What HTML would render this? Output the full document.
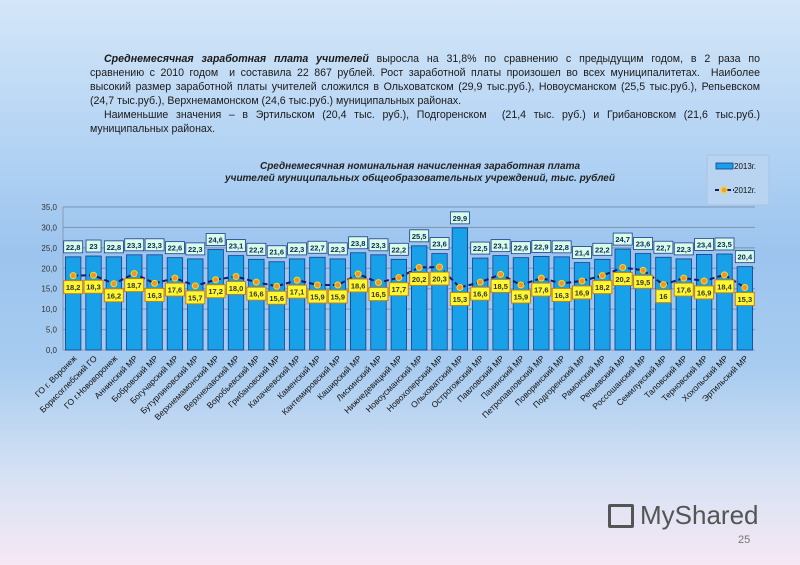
<!DOCTYPE html>
<html><head><meta charset="utf-8">
<style>
html,body{margin:0;padding:0;}
body{width:800px;height:565px;overflow:hidden;position:relative;font-family:"Liberation Sans",sans-serif;
background:linear-gradient(180deg,#d4e6f8 0%,#b4d4f4 25%,#9cc4ee 45%,#a8ccf0 65%,#d8e2f4 85%,#f6e8f4 100%);}
#txt{position:absolute;left:90px;top:52px;width:670px;font-size:10.6px;line-height:14px;color:#1a1a1a;}
#txt div{white-space:nowrap;text-align:justify;text-align-last:justify;}
#txt div.last{text-align-last:left;}
#txt div.ind{padding-left:14px;}
svg{position:absolute;left:0;top:0;}
</style></head><body>
<div id="txt">
<div class="ind"><b><i>Среднемесячная заработная плата учителей</i></b> выросла на 31,8% по сравнению с предыдущим годом, в 2 раза по</div>
<div>сравнению с 2010 годом&nbsp; и составила 22 867 рублей. Рост заработной платы произошел во всех муниципалитетах.&nbsp; Наиболее</div>
<div>высокий размер заработной платы учителей сложился в Ольховатском (29,9 тыс.руб.), Новоусманском (25,5 тыс.руб.), Репьевском</div>
<div class="last">(24,7 тыс.руб.), Верхнемамонском (24,6 тыс.руб.) муниципальных районах.</div>
<div class="ind">Наименьшие значения – в Эртильском (20,4 тыс. руб.), Подгоренском&nbsp; (21,4 тыс. руб.) и Грибановском (21,6 тыс.руб.)</div>
<div class="last">муниципальных районах.</div>
</div>
<svg id="chart" width="800" height="565">
<text x="420" y="169" text-anchor="middle" font-size="10" font-weight="bold" font-style="italic" fill="#222"><tspan x="420">Среднемесячная номинальная начисленная заработная плата</tspan><tspan x="420" dy="12">учителей муниципальных общеобразовательных учреждений, тыс. рублей</tspan></text>
<g>
<rect x="707" y="155" width="62" height="50" fill="#b8d4f0" stroke="#a8c4e4"/>
<rect x="716" y="163" width="17" height="6" fill="#1aa0e6" stroke="#123a8a" stroke-width="0.8"/>
<text x="734" y="169" font-size="8" fill="#111">2013г.</text>
<line x1="715" y1="190" x2="734" y2="190" stroke="#1a1a6a" stroke-width="2" stroke-dasharray="4,2"/>
<circle cx="724" cy="190" r="3" fill="#f0a040" stroke="#ffe000"/>
<text x="734" y="193" font-size="8" fill="#111">2012г.</text>
</g>
</svg>
<div style="position:absolute;left:608px;top:500px;font-size:26px;color:#555;"><span style="display:inline-block;width:26px;height:24px;border:3px solid #555;border-radius:2px;vertical-align:-4px;margin-right:6px;box-sizing:border-box"></span>MyShared</div>
<div style="position:absolute;left:738px;top:534px;font-size:11px;color:#777;">25</div>
<script>
const categories=["ГО г. Воронеж","Борисоглебский ГО","ГО г.Нововоронеж","Аннинский МР","Бобровский МР","Богучарский МР","Бутурлиновский МР","Верхнемамонский МР","Верхнехавский МР","Воробьевский МР","Грибановский МР","Калачеевский МР","Каменский МР","Кантемировский МР","Каширский МР","Лискинский МР","Нижнедевицкий МР","Новоусманский МР","Новохоперский МР","Ольховатский МР","Острогожский МР","Павловский МР","Панинский МР","Петропавловский МР","Поворинский МР","Подгоренский МР","Рамонский МР","Репьевский МР","Россошанский МР","Семилукский МР","Таловский МР","Терновский МР","Хохольский МР","Эртильский МР"];
const values2013=[22.8,23,22.8,23.3,23.3,22.6,22.3,24.6,23.1,22.2,21.6,22.3,22.7,22.3,23.8,23.3,22.2,25.5,23.6,29.9,22.5,23.1,22.6,22.9,22.8,21.4,22.2,24.7,23.6,22.7,22.3,23.4,23.5,20.4];
const labels2013=["22,8","23","22,8","23,3","23,3","22,6","22,3","24,6","23,1","22,2","21,6","22,3","22,7","22,3","23,8","23,3","22,2","25,5","23,6","29,9","22,5","23,1","22,6","22,9","22,8","21,4","22,2","24,7","23,6","22,7","22,3","23,4","23,5","20,4"];
const values2012=[18.2,18.3,16.2,18.7,16.3,17.6,15.7,17.2,18.0,16.6,15.6,17.1,15.9,15.9,18.6,16.5,17.7,20.2,20.3,15.3,16.6,18.5,15.9,17.6,16.3,16.9,18.2,20.2,19.5,16,17.6,16.9,18.4,15.3];
const labels2012=["18,2","18,3","16,2","18,7","16,3","17,6","15,7","17,2","18,0","16,6","15,6","17,1","15,9","15,9","18,6","16,5","17,7","20,2","20,3","15,3","16,6","18,5","15,9","17,6","16,3","16,9","18,2","20,2","19,5","16","17,6","16,9","18,4","15,3"];
const yTicks=[0,5,10,15,20,25,30,35];
const yTickLabels=["0,0","5,0","10,0","15,0","20,0","25,0","30,0","35,0"];

const NS="http://www.w3.org/2000/svg";
const svg=document.getElementById('chart');
const X0=63,X1=755,Y0=350,Y1=207,YMAX=35;
const band=(X1-X0)/categories.length;
const xs=i=>X0+band*(i+0.5);
const ys=v=>Y0-(v/YMAX)*(Y0-Y1);
function mk(tag,attrs,parent){const e=document.createElementNS(NS,tag);for(const k in attrs)e.setAttribute(k,attrs[k]);(parent||svg).appendChild(e);return e;}

yTicks.forEach((t,i)=>{
  const y=ys(t);
  const gl=mk('line',{x1:X0,x2:X1,y1:y,y2:y,stroke:t===0?'#8a9ab0':'#7c94b4','stroke-width':1});
  
  
  const tl=mk('text',{x:X0-6,y:y+3,'text-anchor':'end','font-size':8,fill:'#333'});
  tl.textContent=yTickLabels[i];
  
  
});
mk('line',{x1:X0,x2:X0,y1:Y1,y2:Y0,stroke:'#8a9ab0'});

const bw=band*0.76;
values2013.forEach((v,i)=>{
  const r=mk('rect',{x:xs(i)-bw/2,y:ys(v),width:bw,height:Y0-ys(v),fill:'#18a0e8',stroke:'#1a3c8c','stroke-width':0.8});
  
  
});
let d='';
values2012.forEach((v,i)=>{d+=(i?'L':'M')+xs(i)+','+ys(v);});
const ln=mk('path',{d:d,fill:'none',stroke:'#1a1a6a','stroke-width':2,'stroke-dasharray':'5,3'});


values2012.forEach((v,i)=>{
  const c=mk('circle',{cx:xs(i),cy:ys(v),r:3,fill:'#f09040',stroke:'#ffe000','stroke-width':1});
  
  
});
values2013.forEach((v,i)=>{
  const y=ys(v)-16;
  const w=labels2013[i].length>2?19:15;
  const r=mk('rect',{x:xs(i)-w/2,y:y,width:w,height:12,fill:'#d8fce8',stroke:'#1a3c8c','stroke-width':0.8});
  
  
  const t=mk('text',{x:xs(i),y:y+9,'text-anchor':'middle','font-size':7.5,'font-weight':'bold',fill:'#0a2a5a'});
  t.textContent=labels2013[i];
  
  
});
values2012.forEach((v,i)=>{
  const y=ys(v)+5;
  const w=labels2012[i].length>2?19:15;
  const r=mk('rect',{x:xs(i)-w/2,y:y,width:w,height:13,fill:'#fff830',stroke:'#c08020','stroke-width':1});
  
  
  const t=mk('text',{x:xs(i),y:y+9.5,'text-anchor':'middle','font-size':7.5,'font-weight':'bold',fill:'#333'});
  t.textContent=labels2012[i];
  
  
});
categories.forEach((c,i)=>{
  const x=xs(i)+4,y=Y0+9;
  const t=mk('text',{x:x,y:y,'text-anchor':'end','font-size':8.5,fill:'#111',transform:`rotate(-45 ${x} ${y})`});
  t.textContent=c;
  
  
});
</script>
</body></html>
